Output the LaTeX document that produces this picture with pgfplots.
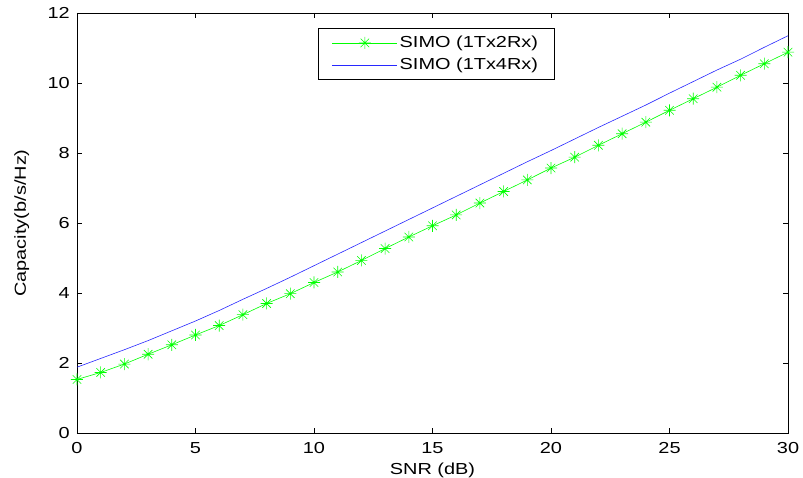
\documentclass[border=0pt]{standalone}
\usepackage{fontspec}
\setmainfont{Liberation Sans}[FakeStretch=1.25]
\usepackage{pgfplots}
\pgfplotsset{compat=1.18}

\definecolor{mgreen}{RGB}{0,255,0}
\definecolor{mblue}{RGB}{40,40,255}

% matlab style asterisk: plus and cross
\pgfdeclareplotmark{mstar}{%
  \pgfpathmoveto{\pgfpoint{-\pgfplotmarksize}{0pt}}\pgfpathlineto{\pgfpoint{\pgfplotmarksize}{0pt}}%
  \pgfpathmoveto{\pgfpoint{0pt}{-\pgfplotmarksize}}\pgfpathlineto{\pgfpoint{0pt}{\pgfplotmarksize}}%
  \pgfpathmoveto{\pgfpoint{-0.7071\pgfplotmarksize}{-0.7071\pgfplotmarksize}}\pgfpathlineto{\pgfpoint{0.7071\pgfplotmarksize}{0.7071\pgfplotmarksize}}%
  \pgfpathmoveto{\pgfpoint{-0.7071\pgfplotmarksize}{0.7071\pgfplotmarksize}}\pgfpathlineto{\pgfpoint{0.7071\pgfplotmarksize}{-0.7071\pgfplotmarksize}}%
  \pgfusepathqstroke}

\begin{document}
\begin{tikzpicture}
\begin{axis}[name=a,width=711bp,height=420bp,scale only axis,
  xmin=0,xmax=30,ymin=0,ymax=12,
  xtick={0,5,...,30},ytick={0,2,...,12},
  tick pos=both,tick align=inside,major tick length=5bp,
  axis line style={line width=0.8bp},
  every tick/.style={black,line width=0.6bp},
  font=\fontsize{16}{19}\selectfont,
  /pgf/number format/assume math mode=true,
  xticklabel style={inner sep=0pt,anchor=north,yshift=-9bp},
  yticklabel style={inner sep=0pt,anchor=east,xshift=-7bp},
  xlabel={SNR (dB)},ylabel={Capacity(b/s/Hz)},
  every axis x label/.style={at={(axis description cs:0.5,-0.0714)},anchor=north,inner sep=0pt},
  every axis y label/.style={at={(axis description cs:-0.0886,0.5)},anchor=north,rotate=90,inner sep=0pt},
  legend cell align=left,
  legend style={at={(axis description cs:0.505,0.964)},anchor=north,draw=black,line width=0.6bp,
    inner xsep=14bp,inner ysep=6bp,row sep=5bp,font=\fontsize{16}{19}\selectfont},
  legend image code/.code={\draw[mark repeat=2,mark phase=2,#1] plot coordinates {(0bp,0bp) (32.5bp,0bp) (65bp,0bp)};},
]
\addplot[mgreen,line width=0.6bp,mark=mstar,mark size=6bp,mark options={line width=0.6bp}] coordinates {
(0,1.53) (1,1.73) (2,1.97) (3,2.25) (4,2.52) (5,2.80) (6,3.07) (7,3.38) (8,3.70) (9,3.98)
(10,4.30) (11,4.60) (12,4.93) (13,5.27) (14,5.60) (15,5.92) (16,6.23) (17,6.57) (18,6.90) (19,7.23)
(20,7.57) (21,7.88) (22,8.22) (23,8.55) (24,8.88) (25,9.22) (26,9.55) (27,9.88) (28,10.22) (29,10.55) (30,10.88)};
\addlegendentry{SIMO (1Tx2Rx)}
\addplot[mblue,line width=0.6bp] coordinates {
(0,1.88) (1,2.13) (2,2.38) (3,2.64) (4,2.92) (5,3.20) (6,3.50) (7,3.82) (8,4.13) (9,4.45)
(10,4.78) (11,5.11) (12,5.44) (13,5.77) (14,6.10) (15,6.43) (16,6.76) (17,7.09) (18,7.42) (19,7.75)
(20,8.07) (21,8.40) (22,8.73) (23,9.05) (24,9.37) (25,9.71) (26,10.04) (27,10.37) (28,10.68) (29,11.02) (30,11.35)};
\addlegendentry{SIMO (1Tx4Rx)}
\end{axis}
\pgfresetboundingbox
\path ([xshift=-77bp,yshift=-45bp]a.south west) rectangle ([xshift=15bp,yshift=13bp]a.north east);
\end{tikzpicture}
\end{document}
